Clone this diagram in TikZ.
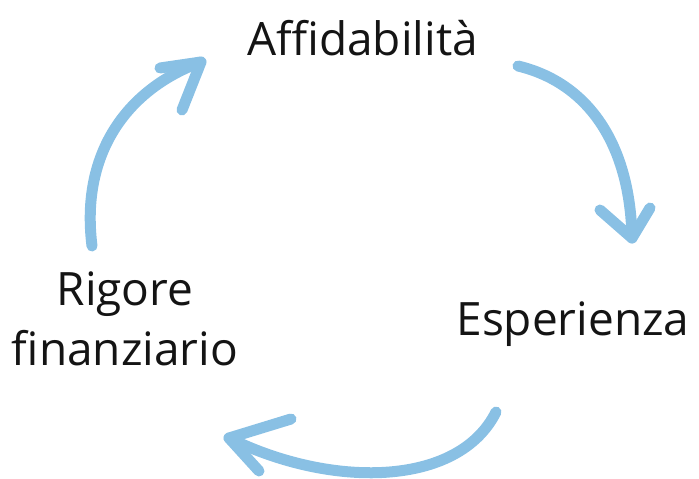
\documentclass[tikz,border=0pt]{standalone}
\usepackage{fontspec}
\setmainfont{Open Sans}
\definecolor{arrowblue}{RGB}{137,192,228}
\definecolor{txt}{RGB}{20,20,20}
\begin{document}
\begin{tikzpicture}[x=1pt,y=-1pt,
  shaft/.style={draw=arrowblue,line width=11pt,line cap=round},
  barb/.style={draw=arrowblue,line width=11pt,line cap=round,line join=round},
  lbl/.style={font=\fontsize{46}{60}\selectfont,text=txt,inner sep=0pt,align=center,anchor=base}]
\useasboundingbox (0,0) rectangle (699,479);
\node[lbl] (aff) at (362.5,55) {Affidabilità};
\node[lbl] (esp) at (573,335) {Esperienza};
\node[lbl] (rig) at (125,365) {Rigore\\finanziario};
% left arrow
\coordinate (l0) at (92,246);
\coordinate (l1) at (201,62);
\path[shaft] (l0) .. controls (80,150) and (130,88) .. (l1);
\path[barb] (160,68) -- (l1) -- (182,110);
% right arrow
\coordinate (r0) at (518,66);
\coordinate (r1) at (632,238);
\path[shaft] (r0) .. controls (585,82) and (630,140) .. (r1);
\path[barb] (600,210) -- (r1) -- (650,208);
% bottom arrow
\coordinate (b0) at (496,412);
\coordinate (b1) at (229,438);
\path[shaft] (b0) .. controls (458,488) and (330,488) .. (b1);
\path[barb] (291,419) -- (b1) -- (259,471);
\end{tikzpicture}
\end{document}
